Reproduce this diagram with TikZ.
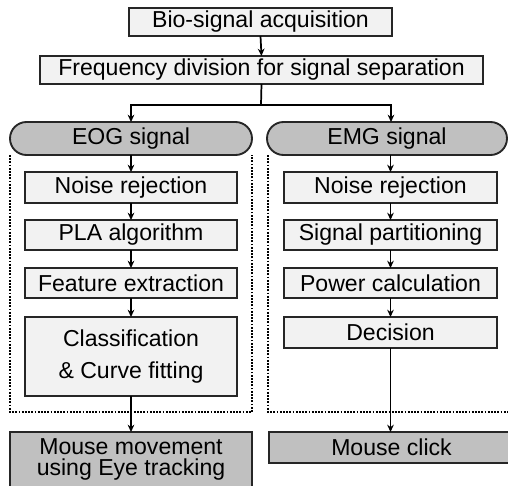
\documentclass[tikz,border=0pt]{standalone}
\usepackage{fontspec}
\setmainfont{Liberation Sans}
\usetikzlibrary{arrows.meta}
\definecolor{procfill}{HTML}{F2F2F2}
\definecolor{sigfill}{HTML}{C0C0C0}
\begin{document}
\begin{tikzpicture}[x=0.75pt,y=-0.75pt,
  every node/.style={font=\fontsize{17.3}{15}\selectfont, inner sep=0pt, outer sep=0pt},
  procbox/.style={draw=black!85, line width=1.4pt, fill=procfill, rectangle},
  sigbox/.style={draw=black!85, line width=1.4pt, fill=sigfill, rounded corners=16.5*0.75pt},
  outbox/.style={draw=black!85, line width=1.4pt, fill=sigfill, rectangle},
  conn/.style={line width=1.3pt, -{Stealth[length=5.5pt,width=5pt]}},
  plainline/.style={line width=1.3pt},
  frame/.style={line width=1.3pt, dash pattern=on 1.3pt off 1.1pt}]
\useasboundingbox (0,0) rectangle (508,486);
% top boxes
\node[procbox, minimum width=263*0.75pt, minimum height=28*0.75pt] (acq) at (260.5,22) {Bio-signal acquisition};
\node[procbox, minimum width=443*0.75pt, minimum height=28*0.75pt] (freq) at (261.5,70) {Frequency division for signal separation};
% signal pills
\node[sigbox, minimum width=242*0.75pt, minimum height=33*0.75pt] (eog) at (131,138.5) {EOG signal};
\node[sigbox, minimum width=240*0.75pt, minimum height=33*0.75pt] (emg) at (387,138.5) {EMG signal};
% dotted frames
\coordinate (fl1) at (10,155);
\coordinate (fl2) at (10,412);
\coordinate (fl3) at (252,412);
\coordinate (fl4) at (252,155);
\draw[frame] (fl1) -- (fl2) -- (fl3) -- (fl4);
\coordinate (fr1) at (268,155);
\coordinate (fr2) at (268,412);
\coordinate (fr3) at (510,412);
\draw[frame] (fr1) -- (fr2) -- (fr3);
% EOG chain
\node[procbox, minimum width=212*0.75pt, minimum height=31*0.75pt] (n1) at (131,187.5) {Noise rejection};
\node[procbox, minimum width=212*0.75pt, minimum height=30*0.75pt] (pla) at (131,235) {PLA algorithm};
\node[procbox, minimum width=212*0.75pt, minimum height=30*0.75pt] (feat) at (131,283) {Feature extraction};
\node[procbox, minimum width=212*0.75pt, minimum height=79*0.75pt, align=center, font=\fontsize{17.3}{24}\selectfont] (cls) at (131,356.5) {Classification\\\& Curve fitting};
% EMG chain
\node[procbox, minimum width=213*0.75pt, minimum height=31*0.75pt] (n2) at (390.5,187.5) {Noise rejection};
\node[procbox, minimum width=213*0.75pt, minimum height=30*0.75pt] (part) at (390.5,235) {Signal partitioning};
\node[procbox, minimum width=213*0.75pt, minimum height=30*0.75pt] (pow) at (390.5,283) {Power calculation};
\node[procbox, minimum width=213*0.75pt, minimum height=31*0.75pt] (dec) at (390.5,332.5) {Decision};
% outputs
\node[outbox, minimum width=242*0.75pt, minimum height=72*0.75pt, anchor=north] (mm) at (131,432) {};
\node[align=center, font=\fontsize{17.3}{15.8}\selectfont] (mmtext) at (131,459) {Mouse movement\\using Eye tracking};
\node[outbox, minimum width=245*0.75pt, minimum height=31*0.75pt] (mc) at (391.5,447.5) {Mouse click};
% connectors
\draw[conn] (acq.south) -- (freq.north);
\coordinate (split) at (261,105);
\coordinate (splitl) at (131,105);
\coordinate (splitr) at (391,105);
\draw[plainline] (freq.south) -- (split);
\draw[conn] (split) -- (splitl) -- (splitl |- eog.north);
\draw[conn] (split) -- (splitr) -- (splitr |- emg.north);
\draw[conn] (eog.south) -- (n1.north);
\draw[conn] (n1.south) -- (pla.north);
\draw[conn] (pla.south) -- (feat.north);
\draw[conn] (feat.south) -- (cls.north);
\draw[conn] (cls.south) -- (mm.north);
\draw[conn] (n2.north |- emg.south) -- (n2.north);
\draw[conn] (n2.south) -- (part.north);
\draw[conn] (part.south) -- (pow.north);
\draw[conn] (pow.south) -- (dec.north);
\draw[conn] (dec.south) -- (dec.south |- mc.north);
\end{tikzpicture}
\end{document}
